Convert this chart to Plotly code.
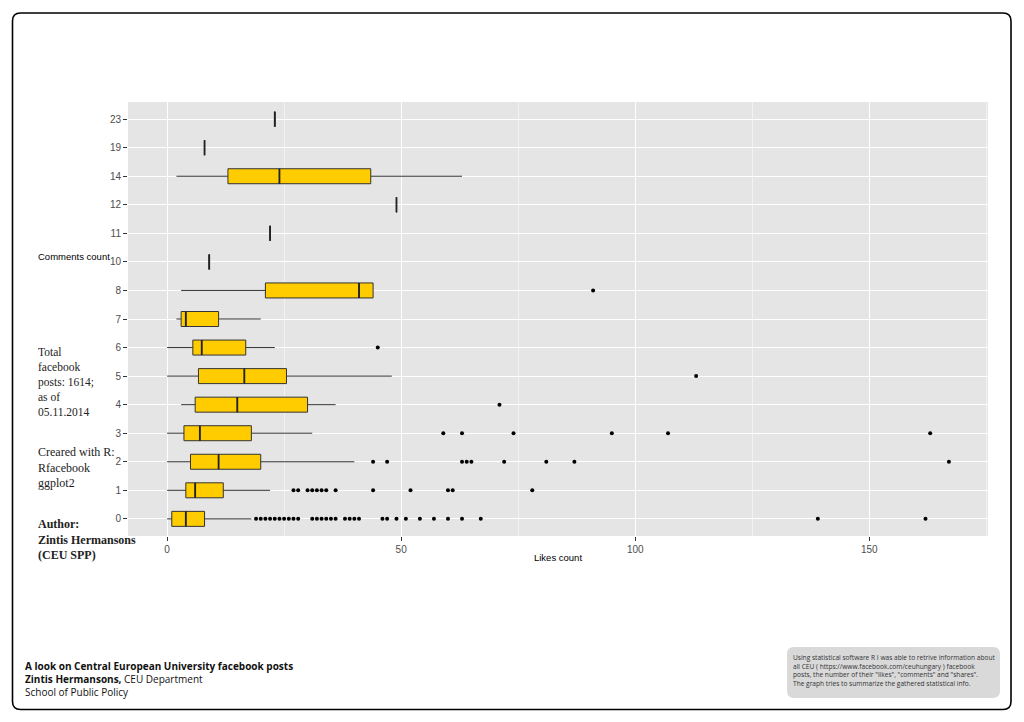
"""
CEU facebook posts: likes count by comments count (boxplots), Plotly version.
"""

import plotly.graph_objects as go

# the page body adds an 8px margin, so the figure is a bit smaller and shifted
OFF = 8
W, H = 1024 - OFF, 722 - OFF

# comments count categories (y axis)
comments = ['0', '1', '2', '3', '4', '5', '6', '7', '8', '10', '11', '12', '14', '19', '23']

# precomputed box statistics of likes count per comments category
lower_whisker = [0, 0, 0, 0, 3, 0, 0, 2, 3, 9, 22, 49, 2, 8, 23]
q1_likes = [1, 4, 5, 3.6, 6, 6.7, 5.5, 3, 21, 9, 22, 49, 13, 8, 23]
median_likes = [4, 6, 11, 7, 15, 16.5, 7.4, 4, 41, 9, 22, 49, 24, 8, 23]
q3_likes = [8, 12, 20, 18, 30, 25.5, 16.8, 11, 44, 9, 22, 49, 43.5, 8, 23]
upper_whisker = [18, 22, 40, 31, 36, 48, 23, 20, 44, 9, 22, 49, 63, 8, 23]

# outliers per comments category
outliers = {
    '0': [19, 20, 21, 22, 23, 24, 25, 26, 27, 28, 31, 32, 33, 34, 35, 36,
          38, 39, 40, 41, 46, 47, 49, 51, 54, 57, 60, 63, 67, 139, 162],
    '1': [27, 28, 30, 31, 32, 33, 34, 36, 44, 52, 60, 61, 78],
    '2': [44, 47, 63, 64, 65, 72, 81, 87, 167],
    '3': [59, 63, 74, 95, 107, 163],
    '4': [71],
    '5': [113],
    '6': [45],
    '8': [91],
}

x_ticks = [0, 50, 100, 150]


def px(x):
    return (x - OFF) / W


def py(y):
    return 1 - (y - OFF) / H


def rounded_rect(x0, y0, x1, y1, r):
    # path in paper units from pixel corners
    return (f"M {px(x0 + r)},{py(y0)} L {px(x1 - r)},{py(y0)} "
            f"Q {px(x1)},{py(y0)} {px(x1)},{py(y0 + r)} "
            f"L {px(x1)},{py(y1 - r)} Q {px(x1)},{py(y1)} {px(x1 - r)},{py(y1)} "
            f"L {px(x0 + r)},{py(y1)} Q {px(x0)},{py(y1)} {px(x0)},{py(y1 - r)} "
            f"L {px(x0)},{py(y0 + r)} Q {px(x0)},{py(y0)} {px(x0 + r)},{py(y0)} Z")


out_x, out_y = [], []
for cat, vals in outliers.items():
    out_x += vals
    out_y += [cat] * len(vals)

fig = go.Figure()
fig.add_trace(go.Box(
    y=comments,
    q1=q1_likes,
    median=median_likes,
    q3=q3_likes,
    lowerfence=lower_whisker,
    upperfence=upper_whisker,
    orientation='h',
    fillcolor='#FFCC00',
    line=dict(color='#333333', width=1),
    whiskerwidth=0,
    boxpoints=False,
    hoverinfo='x',
    showlegend=False,
))
# thicker median bar, as in ggplot (zero-width box drawn on top)
fig.add_trace(go.Box(
    y=comments,
    q1=median_likes,
    median=median_likes,
    q3=median_likes,
    lowerfence=median_likes,
    upperfence=median_likes,
    orientation='h',
    fillcolor='rgba(0,0,0,0)',
    line=dict(color='#222222', width=1.8),
    whiskerwidth=0,
    boxpoints=False,
    hoverinfo='skip',
    showlegend=False,
))
fig.add_trace(go.Scatter(
    x=out_x, y=out_y, mode='markers',
    marker=dict(color='black', size=4),
    showlegend=False,
))

axis_font = dict(family='Liberation Sans, Arial, sans-serif', size=10, color='#4d4d4d')
serif = 'Liberation Serif, Times New Roman, serif'
sans = 'Open Sans, Roboto, sans-serif'

fig.update_layout(
    width=W, height=H,
    margin=dict(l=0, r=0, t=0, b=0),
    paper_bgcolor='white',
    plot_bgcolor='#E5E5E5',
    boxmode='overlay',
    boxgap=0.25,
    xaxis=dict(
        domain=[px(128), px(988)],
        range=[-8.35, 175.35],
        tickvals=x_ticks,
        showgrid=True, gridcolor='white', gridwidth=1.1,
        minor=dict(dtick=25, tick0=0, showgrid=True, gridcolor='#F2F2F2', gridwidth=0.6),
        zeroline=False,
        ticks='outside', ticklen=4, tickcolor='#333333',
        tickfont=axis_font,
        title=dict(text='Likes count', font=dict(family='Liberation Sans, Arial, sans-serif',
                                                   size=9.5, color='black'), standoff=0),
    ),
    yaxis=dict(
        domain=[py(536), py(102)],
        type='category',
        categoryorder='array', categoryarray=comments,
        range=[-0.6, 14.6],
        showgrid=True, gridcolor='white', gridwidth=1.1,
        zeroline=False,
        ticks='outside', ticklen=4, tickcolor='#333333',
        tickfont=axis_font,
    ),
    shapes=[
        dict(type='path', xref='paper', yref='paper',
             path=rounded_rect(12.5, 13, 1011, 709.5, 8),
             line=dict(color='black', width=1.6), fillcolor='rgba(0,0,0,0)', layer='below'),
        dict(type='path', xref='paper', yref='paper',
             path=rounded_rect(787, 647, 1000, 698, 7),
             line=dict(width=0), fillcolor='#D9D9D9', layer='below'),
    ],
    annotations=[
        dict(x=px(36), y=py(256), xref='paper', yref='paper', xanchor='left', yanchor='middle',
             text='Comments count', showarrow=False,
             font=dict(family='Liberation Sans, Arial, sans-serif', size=9.5, color='black')),
        dict(x=px(36), y=py(344), xref='paper', yref='paper', xanchor='left', yanchor='top',
             align='left', showarrow=False,
             text='Total<br>facebook<br>posts: 1614;<br>as of<br>05.11.2014',
             font=dict(family=serif, size=11.5, color='#222222')),
        dict(x=px(36), y=py(443), xref='paper', yref='paper', xanchor='left', yanchor='top',
             align='left', showarrow=False,
             text='Creared with R:<br>Rfacebook<br>ggplot2',
             font=dict(family=serif, size=12, color='#222222')),
        dict(x=px(36), y=py(515), xref='paper', yref='paper', xanchor='left', yanchor='top',
             align='left', showarrow=False,
             text='<b>Author:<br>Zintis Hermansons<br>(CEU SPP)</b>',
             font=dict(family=serif, size=12, color='#222222')),
        dict(x=px(23), y=py(657), xref='paper', yref='paper', xanchor='left', yanchor='top',
             align='left', showarrow=False,
             text='<b>A look on Central European University facebook posts</b><br>'
                  '<b>Zintis Hermansons,</b> CEU Department<br>School of Public Policy',
             font=dict(family=sans, size=10, color='#111111')),
        dict(x=px(791), y=py(651), xref='paper', yref='paper', xanchor='left', yanchor='top',
             align='left', showarrow=False,
             text='Using statistical software R I was able to retrive information about<br>'
                  'all CEU ( https://www.facebook.com/ceuhungary ) facebook<br>'
                  'posts, the number of their "likes", "comments" and "shares".<br>'
                  'The graph tries to summarize the gathered statistical info.',
             font=dict(family=sans, size=6.6, color='#333333')),
    ],
)

fig.write_html("out.html")
